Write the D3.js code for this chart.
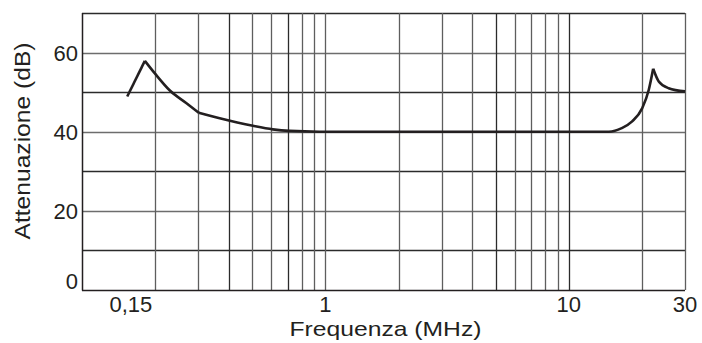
<!DOCTYPE html>
<html>
<head>
<meta charset="utf-8">
<script src="https://cdn.jsdelivr.net/npm/d3@7"></script>
<style>
  body { margin: 0; background: #fff; }
  text { font-family: 'Liberation Sans', Arial, sans-serif; fill: #231f20; }
</style>
</head>
<body>
<div id="chart"></div>
<script>
// values
var freqs = [0.1534, 0.1812, 0.2, 0.2296, 0.2687, 0.3017, 0.3678, 0.5036, 0.608, 0.712, 0.945, 5, 14.6, 16.5, 18.2, 20, 21.3, 22.2, 23.4, 25.7, 30]
var dbs = [48.9, 57.9, 54.6, 50.4, 47.2, 44.8, 43.4, 41.5, 40.6, 40.2, 40.0, 40.0, 40.0, 40.9, 42.6, 45.9, 50.6, 55.9, 52.7, 51.0, 50.2]
// indexes where the curve has a sharp corner
var corners = [1, 5, 17]

var yTicks = [0, 20, 40, 60]
var yGrid = [10, 20, 30, 40, 50, 60, 70]
var xGrid = [0.2, 0.3, 0.4, 0.5, 0.6, 0.7, 0.8, 0.9, 1, 2, 3, 4, 5, 6, 7, 8, 9, 10, 20, 30]
var xTicks = [0.15, 1, 10, 30]
var xTickLabels = ['0,15', '1', '10', '30']

var margin = { top: 13, left: 82, right: 17, bottom: 53 }
var width = 702 - margin.left - margin.right
var height = 343 - margin.top - margin.bottom

var svg = d3.select('#chart')
  .append('svg')
  .attr('width', 702)
  .attr('height', 343)

var g = svg.append('g')
  .attr('transform', 'translate(' + margin.left + ',' + margin.top + ')')

var xPositionScale = d3.scaleLog().domain([0.1, 30]).range([0, width])
var yPositionScale = d3.scaleLinear().domain([0, 70]).range([height, 0])

// grid
g.selectAll('.hgrid')
  .data(yGrid)
  .enter()
  .append('line')
  .attr('x1', 0)
  .attr('x2', width)
  .attr('y1', d => Math.round(yPositionScale(d)) + 0.5)
  .attr('y2', d => Math.round(yPositionScale(d)) + 0.5)
  .attr('stroke', d => (d % 20 === 0 ? '#6d6d6d' : '#2b2b2b'))
  .attr('stroke-width', 1.3)

g.selectAll('.vgrid')
  .data(xGrid)
  .enter()
  .append('line')
  .attr('x1', d => Math.round(xPositionScale(d)) + 0.5)
  .attr('x2', d => Math.round(xPositionScale(d)) + 0.5)
  .attr('y1', 0)
  .attr('y2', height)
  .attr('stroke', d => ([0.4, 0.7, 5, 10].indexOf(d) >= 0 ? '#2b2b2b' : '#5e5e5e'))
  .attr('stroke-width', 1.3)

// axes lines
g.append('line')
  .attr('x1', 0.5).attr('x2', 0.5)
  .attr('y1', 0).attr('y2', height + 0.5)
  .attr('stroke', '#231f20').attr('stroke-width', 1.5)
g.append('line')
  .attr('x1', 0).attr('x2', width)
  .attr('y1', height + 0.5).attr('y2', height + 0.5)
  .attr('stroke', '#231f20').attr('stroke-width', 1.5)

// curve, split at the corners so the peaks stay sharp
var points = freqs.map((f, i) => ({ f: f, db: dbs[i] }))
var cuts = [0].concat(corners).concat([points.length - 1])
var pieces = []
for (var i = 0; i < cuts.length - 1; i++) {
  pieces.push(points.slice(cuts[i], cuts[i + 1] + 1))
}

var line = d3.line()
  .x(d => xPositionScale(d.f))
  .y(d => yPositionScale(d.db))
  .curve(d3.curveMonotoneX)

g.selectAll('.curve')
  .data(pieces)
  .enter()
  .append('path')
  .attr('d', line)
  .attr('fill', 'none')
  .attr('stroke', '#231f20')
  .attr('stroke-width', 2.6)
  .attr('stroke-linejoin', 'miter')

// tick labels
g.selectAll('.ylabel')
  .data(yTicks)
  .enter()
  .append('text')
  .text(d => d)
  .attr('x', -4)
  .attr('y', d => yPositionScale(d))
  .attr('dy', d => (d === 0 ? -1 : 8))
  .attr('text-anchor', 'end')
  .attr('font-size', 22)

g.selectAll('.xlabel')
  .data(xTicks)
  .enter()
  .append('text')
  .text((d, i) => xTickLabels[i])
  .attr('x', d => xPositionScale(d))
  .attr('dx', d => (d === 0.15 ? 6 : 0))
  .attr('y', height + 22)
  .attr('text-anchor', 'middle')
  .attr('font-size', 22)

// titles
g.append('text')
  .text('Frequenza (MHz)')
  .attr('x', xPositionScale(Math.sqrt(0.1 * 30)) + 2)
  .attr('y', height + 46)
  .attr('text-anchor', 'middle')
  .attr('font-size', 21)
  .attr('textLength', 192)
  .attr('lengthAdjust', 'spacingAndGlyphs')

svg.append('text')
  .text('Attenuazione (dB)')
  .attr('transform', 'translate(30,' + 141 + ') rotate(-90)')
  .attr('text-anchor', 'middle')
  .attr('font-size', 22)
  .attr('textLength', 197)
  .attr('lengthAdjust', 'spacingAndGlyphs')
</script>
</body>
</html>
